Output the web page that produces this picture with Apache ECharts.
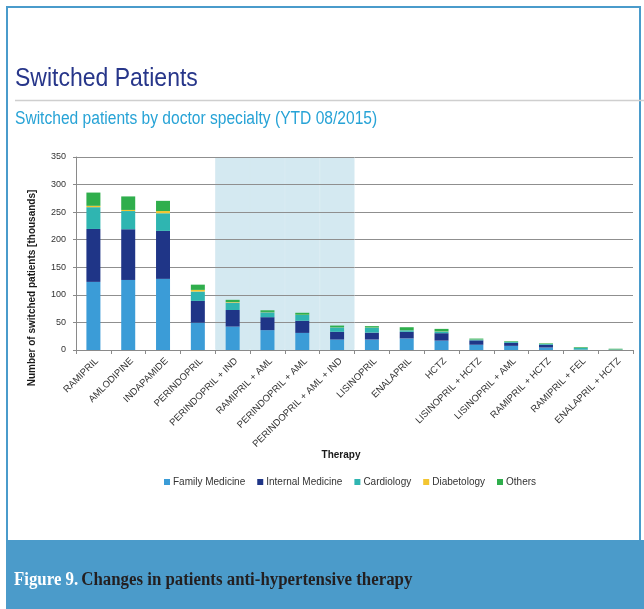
<!DOCTYPE html>
<html>
<head>
<meta charset="utf-8">
<script src="https://cdn.jsdelivr.net/npm/echarts/dist/echarts.min.js"></script>
<style>
html,body{margin:0;padding:0;background:#fff;}
#chart{width:644px;height:609px;}
</style>
</head>
<body>
<div id="chart"></div>
<script>
var categories = ['RAMIPRIL','AMLODIPINE','INDAPAMIDE','PERINDOPRIL','PERINDOPRIL + IND','RAMIPRIL + AML','PERINDOPRIL + AML','PERINDOPRIL + AML + IND','LISINOPRIL','ENALAPRIL','HCTZ','LISINOPRIL + HCTZ','LISINOPRIL + AML','RAMIPRIL + HCTZ','RAMIPRIL + FEL','ENALAPRIL + HCTZ'];
var familyMedicine   = [123.5, 127, 129, 49.5, 42.5, 36, 31, 19, 19, 21, 17, 9.5, 7.5, 4.5, 0.5, 0.3];
var internalMedicine = [96, 92, 87, 39.5, 30, 23.5, 22, 14, 12.5, 12, 13.5, 8, 5.5, 5, 0.3, 0.2];
var cardiology       = [39.5, 33, 32, 17, 13.5, 9, 10.5, 8, 9, 3, 3, 1.5, 2, 1.5, 3, 0.5];
var diabetology      = [2.5, 2, 4, 3, 1, 0.5, 0.5, 0.3, 0.3, 0.3, 0.3, 0.2, 0.2, 0.2, 0.2, 0.1];
var others           = [24, 24.5, 18.5, 9.5, 4, 3, 3.5, 3, 2.5, 5, 4.5, 1.5, 1, 1, 1.2, 1.2];
var seriesNames = ['Family Medicine','Internal Medicine','Cardiology','Diabetology','Others'];
var highlighted = ['PERINDOPRIL + IND','RAMIPRIL + AML','PERINDOPRIL + AML','PERINDOPRIL + AML + IND'];
var yTicks = {min: 0, max: 350, interval: 50};

var colors = ['#3b9cd7','#1f3587','#2fb5b1','#f3c531','#2fae4c'];
var shadeData = categories.map(function(c){ return highlighted.indexOf(c) >= 0 ? yTicks.max : null; });
var valueSets = [familyMedicine, internalMedicine, cardiology, diabetology, others];

var chart = echarts.init(document.getElementById('chart'), null, {renderer:'canvas'});
var series = [{
  type:'bar', name:'shade', xAxisIndex:1, data: shadeData, barWidth:'100%',
  itemStyle:{color:'#d4e9f1', borderColor:'#d4e9f1', borderWidth:1}, z:-1, silent:true, legendHoverLink:false
}];
valueSets.forEach(function(v, i){
  series.push({type:'bar', name: seriesNames[i], stack:'total', data: v, barWidth: 14,
    itemStyle:{color: colors[i]}, z: 2});
});

var option = {
  animation:false,
  color: colors,
  textStyle:{fontFamily:'Liberation Sans, Arial, sans-serif'},
  grid:{left:76, right:11, top:157, bottom:259, containLabel:false, outerBoundsMode:'none'},
  legend:{
    data: seriesNames, left:159, top:472, icon:'rect', itemWidth:6, itemHeight:6, itemGap:12,
    textStyle:{fontSize:10, color:'#333', fontFamily:'Liberation Sans, Arial, sans-serif', padding:[0,0,0,-2]}
  },
  xAxis:[{
    type:'category', data: categories,
    axisLine:{lineStyle:{color:'#8a8a8a'}},
    axisTick:{show:true, length:4, lineStyle:{color:'#8a8a8a'}},
    axisLabel:{rotate:45, fontSize:9.5, color:'#333', margin:6, interval:0, verticalAlign:'top'}
  },{
    type:'category', data: categories, show:false
  }],
  yAxis:{
    type:'value', min:yTicks.min, max:yTicks.max, interval:yTicks.interval,
    axisLine:{show:true, lineStyle:{color:'#8a8a8a'}},
    axisTick:{show:true, length:3, lineStyle:{color:'#8a8a8a'}},
    axisLabel:{fontSize:9, color:'#333', margin:10},
    splitLine:{lineStyle:{color:'#8f8f8f'}}
  },
  series: series,
  graphic:[
    {type:'rect', shape:{x:7, y:7, width:633, height:600}, style:{fill:'none', stroke:'#4a9bcb', lineWidth:2}, z:0},
    {type:'rect', shape:{x:6, y:540, width:638, height:69}, style:{fill:'#4b9bca'}, z:1},
    {type:'text', x:14, y:580, scaleX:0.935, style:{
      text:'{a|Figure 9.} {b|Changes in patients anti-hypertensive therapy}',
      rich:{a:{fill:'#ffffff', fontSize:18, fontWeight:'bold', fontFamily:'Liberation Serif, Times New Roman, serif'},
            b:{fill:'#231f20', fontSize:18, fontWeight:'bold', fontFamily:'Liberation Serif, Times New Roman, serif'}},
      textVerticalAlign:'middle'}, z:2},
    {type:'text', x:15, y:79, scaleX:0.92, style:{text:'Switched Patients', fill:'#27368a', fontSize:25, fontFamily:'Liberation Sans, Arial, sans-serif', textVerticalAlign:'middle'}},
    {type:'line', shape:{x1:15, y1:100.5, x2:644, y2:100.5}, style:{stroke:'#cfcfcf', lineWidth:1.5}},
    {type:'text', x:15, y:119, scaleX:0.866, style:{text:'Switched patients by doctor specialty (YTD 08/2015)', fill:'#27a3d6', fontSize:18, fontFamily:'Liberation Sans, Arial, sans-serif', textVerticalAlign:'middle'}},
    {type:'text', x:32, y:288, rotation:Math.PI/2, style:{text:'Number of switched patients [thousands]', fill:'#1a1a1a', fontSize:10, fontWeight:'bold', fontFamily:'Liberation Sans, Arial, sans-serif', textAlign:'center', textVerticalAlign:'middle'}},
    {type:'text', x:341, y:455, style:{text:'Therapy', fill:'#1a1a1a', fontSize:10, fontWeight:'bold', fontFamily:'Liberation Sans, Arial, sans-serif', textAlign:'center', textVerticalAlign:'middle'}}
  ]
};
chart.setOption(option);
</script>
</body>
</html>
